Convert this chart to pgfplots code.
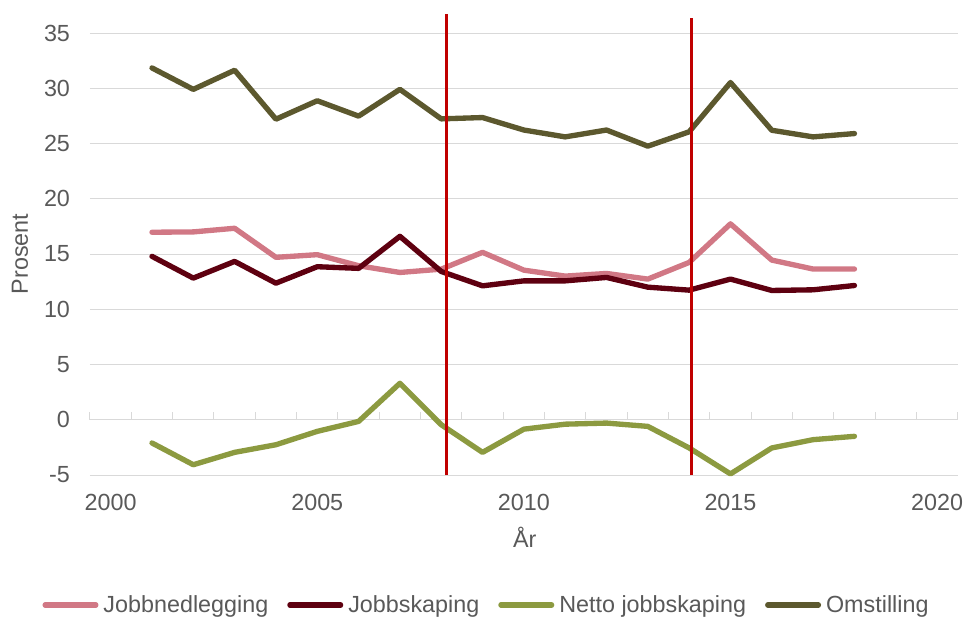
\documentclass[border=0pt]{standalone}
\usepackage{fontspec}
\setmainfont{Liberation Sans}
\usepackage{pgfplots}
\pgfplotsset{compat=1.18}
\definecolor{cNed}{HTML}{D17885}
\definecolor{cSkap}{HTML}{5E0010}
\definecolor{cNetto}{HTML}{8C9A40}
\definecolor{cOms}{HTML}{5C582E}
\definecolor{cRed}{HTML}{C00000}
\definecolor{cGrid}{HTML}{D9D9D9}
\definecolor{cText}{HTML}{595959}
\begin{document}
\begin{tikzpicture}
\useasboundingbox (-67.5pt,-108pt) rectangle (657pt,356.25pt);
\begin{axis}[
  at={(0pt,0pt)}, anchor=south west, scale only axis,
  width=650.8pt, height=331.5pt,
  xmin=1999.5, xmax=2020.5, ymin=-5, ymax=35,
  xtick={2000,2005,...,2020}, ytick={-5,0,...,35},
  clip=false,
  axis line style={draw=none},
  tick style={draw=none},
  ymajorgrids, grid style={cGrid, line width=0.75pt},
  font=\fontsize{17.5}{21}\selectfont,
  every tick label/.append style={text=cText, font=\fontsize{17.5}{21}\selectfont},
  /pgf/number format/assume math mode=true,
  /pgf/number format/1000 sep={},
  xticklabel style={yshift=-10.5pt},
  yticklabel style={xshift=-11.5pt},
  xlabel={År}, ylabel={Prosent},
  label style={text=cText, font=\fontsize{17.5}{21}\selectfont},
  xlabel style={at={(axis description cs:0.501,-0.140)}, anchor=center},
  ylabel style={at={(axis description cs:-0.0807,0.5)}, anchor=center},
  unbounded coords=jump,
  legend columns=4,
  legend style={at={(axis description cs:0.4558,-0.294)}, anchor=center, draw=none,
    font=\fontsize{17.5}{21}\selectfont, text=cText,
    nodes={inner xsep=0pt}, cells={inner xsep=0pt},
    /tikz/every odd column/.append style={column sep=3.75pt},
    /tikz/every even column/.append style={column sep=14.25pt}},
  legend image code/.code={\draw[#1, line cap=round] (0pt,0pt) -- (38pt,0pt);},
  every axis plot/.append style={line join=round, line cap=round},
]
% x-axis tick marks on zero line
\addplot[cGrid, line width=0.75pt, line cap=butt, forget plot] coordinates {
(1999.5,0)(1999.5,0.66)(1999.5,nan)
(2000.5,0)(2000.5,0.66)(2000.5,nan)
(2001.5,0)(2001.5,0.66)(2001.5,nan)
(2002.5,0)(2002.5,0.66)(2002.5,nan)
(2003.5,0)(2003.5,0.66)(2003.5,nan)
(2004.5,0)(2004.5,0.66)(2004.5,nan)
(2005.5,0)(2005.5,0.66)(2005.5,nan)
(2006.5,0)(2006.5,0.66)(2006.5,nan)
(2007.5,0)(2007.5,0.66)(2007.5,nan)
(2008.5,0)(2008.5,0.66)(2008.5,nan)
(2009.5,0)(2009.5,0.66)(2009.5,nan)
(2010.5,0)(2010.5,0.66)(2010.5,nan)
(2011.5,0)(2011.5,0.66)(2011.5,nan)
(2012.5,0)(2012.5,0.66)(2012.5,nan)
(2013.5,0)(2013.5,0.66)(2013.5,nan)
(2014.5,0)(2014.5,0.66)(2014.5,nan)
(2015.5,0)(2015.5,0.66)(2015.5,nan)
(2016.5,0)(2016.5,0.66)(2016.5,nan)
(2017.5,0)(2017.5,0.66)(2017.5,nan)
(2018.5,0)(2018.5,0.66)(2018.5,nan)
(2019.5,0)(2019.5,0.66)(2019.5,nan)
(2020.5,0)(2020.5,0.66)
};
\addplot[cNed, line width=4pt] coordinates {
(2001,16.97)(2002,17.0)(2003,17.33)(2004,14.7)(2005,14.94)(2006,13.94)(2007,13.33)(2008,13.63)(2009,15.15)
(2010,13.54)(2011,13.0)(2012,13.24)(2013,12.73)(2014,14.24)(2015,17.73)(2016,14.45)(2017,13.64)(2018,13.64)};
\addlegendentry{Jobbnedlegging}
\addplot[cSkap, line width=4pt] coordinates {
(2001,14.79)(2002,12.82)(2003,14.33)(2004,12.36)(2005,13.85)(2006,13.7)(2007,16.6)(2008,13.42)(2009,12.12)
(2010,12.57)(2011,12.57)(2012,12.88)(2013,12.0)(2014,11.73)(2015,12.73)(2016,11.7)(2017,11.76)(2018,12.15)};
\addlegendentry{Jobbskaping}
\addplot[cNetto, line width=4pt] coordinates {
(2001,-2.1)(2002,-4.07)(2003,-2.95)(2004,-2.26)(2005,-1.05)(2006,-0.15)(2007,3.3)(2008,-0.45)(2009,-2.95)
(2010,-0.85)(2011,-0.4)(2012,-0.3)(2013,-0.6)(2014,-2.55)(2015,-4.9)(2016,-2.55)(2017,-1.8)(2018,-1.5)};
\addlegendentry{Netto jobbskaping}
\addplot[cOms, line width=4pt] coordinates {
(2001,31.84)(2002,29.9)(2003,31.63)(2004,27.2)(2005,28.87)(2006,27.48)(2007,29.9)(2008,27.23)(2009,27.35)
(2010,26.22)(2011,25.6)(2012,26.22)(2013,24.76)(2014,26.06)(2015,30.52)(2016,26.2)(2017,25.6)(2018,25.9)};
\addlegendentry{Omstilling}
\addplot[cRed, line width=2.25pt, line cap=butt, forget plot] coordinates {(2008.13,-5)(2008.13,36.7)};
\addplot[cRed, line width=2.25pt, line cap=butt, forget plot] coordinates {(2014.05,-5)(2014.05,36.35)};
\end{axis}
\end{tikzpicture}
\end{document}
